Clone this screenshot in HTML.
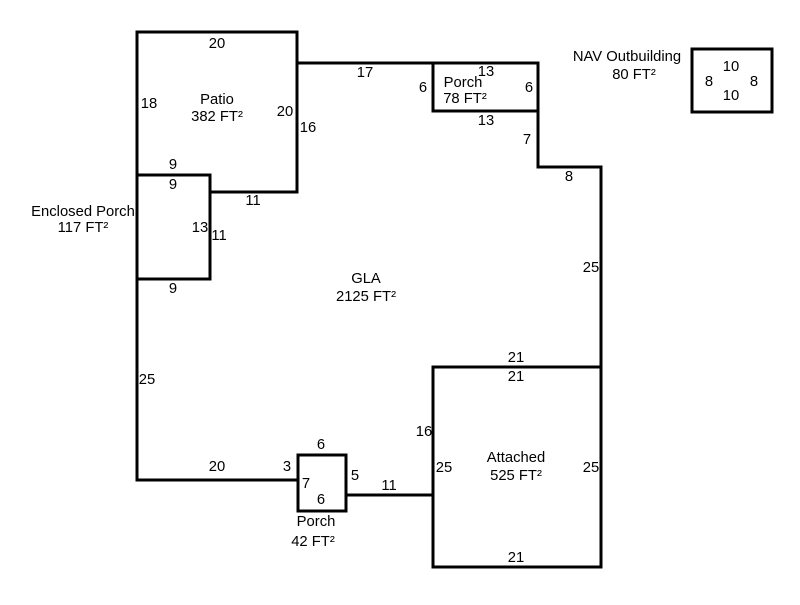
<!DOCTYPE html>
<html><head><style>body{margin:0;background:#fff}</style></head><body>
<svg width="800" height="600" xmlns="http://www.w3.org/2000/svg" font-family="Liberation Sans, Arial, sans-serif" font-size="14.8" fill="#000">
<g stroke="#000" stroke-width="3" fill="none" stroke-linecap="square">
<polyline points="137,480 137,32 297,32 297,192 210,192"/>
<rect x="137" y="175" width="73" height="104"/>
<polyline points="297,63 538,63 538,167 601,167 601,367"/>
<rect x="433" y="63" width="105" height="48"/>
<rect x="433" y="367" width="168" height="200"/>
<line x1="137" y1="480" x2="298" y2="480"/>
<rect x="298" y="455" width="48" height="56"/>
<line x1="346" y1="495" x2="433" y2="495"/>
<rect x="692" y="49" width="80" height="63"/>
</g>
<g text-anchor="middle">
<text x="217" y="48">20</text>
<text x="149" y="108">18</text>
<text x="217" y="104">Patio</text>
<text x="217" y="121">382 FT²</text>
<text x="285" y="116">20</text>
<text x="308" y="132">16</text>
<text x="173" y="169">9</text>
<text x="173" y="189">9</text>
<text x="253" y="205">11</text>
<text x="200" y="232">13</text>
<text x="219" y="240">11</text>
<text x="173" y="293">9</text>
<text x="83" y="216">Enclosed Porch</text>
<text x="83" y="232">117 FT²</text>
<text x="365" y="77">17</text>
<text x="423" y="92">6</text>
<text x="463" y="87">Porch</text>
<text x="465" y="103">78 FT²</text>
<text x="486" y="76">13</text>
<text x="529" y="92">6</text>
<text x="486" y="125">13</text>
<text x="527" y="144">7</text>
<text x="569" y="181">8</text>
<text x="591" y="272">25</text>
<text x="627" y="61">NAV Outbuilding</text>
<text x="634" y="79">80 FT²</text>
<text x="731" y="71">10</text>
<text x="709" y="86">8</text>
<text x="754" y="86">8</text>
<text x="731" y="100">10</text>
<text x="366" y="283">GLA</text>
<text x="366" y="301">2125 FT²</text>
<text x="147" y="384">25</text>
<text x="516" y="362">21</text>
<text x="516" y="381">21</text>
<text x="424" y="436">16</text>
<text x="444" y="472">25</text>
<text x="516" y="462">Attached</text>
<text x="516" y="480">525 FT²</text>
<text x="591" y="472">25</text>
<text x="516" y="562">21</text>
<text x="217" y="471">20</text>
<text x="287" y="471">3</text>
<text x="321" y="449">6</text>
<text x="306" y="488">7</text>
<text x="355" y="480">5</text>
<text x="321" y="504">6</text>
<text x="389" y="490">11</text>
<text x="316" y="526">Porch</text>
<text x="313" y="546">42 FT²</text>
</g>
</svg>
</body></html>
